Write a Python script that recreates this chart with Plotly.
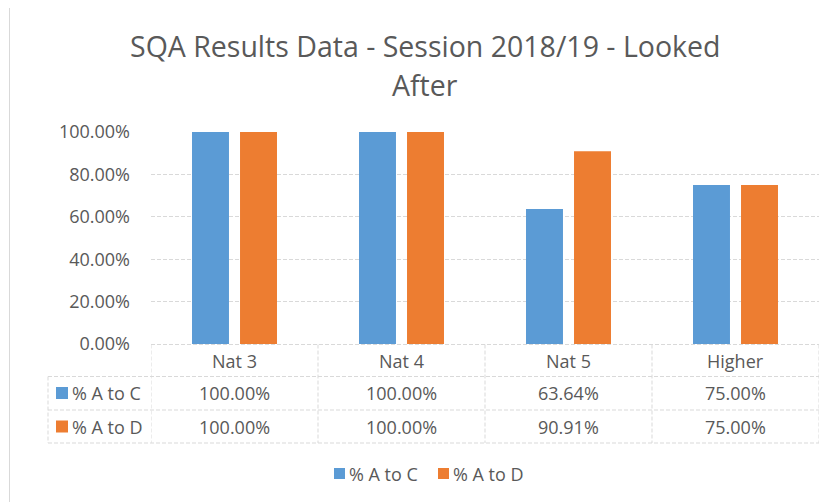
import plotly.graph_objects as go

categories = ["Nat 3", "Nat 4", "Nat 5", "Higher"]
series_names = ["% A to C", "% A to D"]
pct_a_to_c = [1.0, 1.0, 0.6364, 0.75]
pct_a_to_d = [1.0, 1.0, 0.9091, 0.75]
y_tick_values = [0, 0.2, 0.4, 0.6, 0.8, 1.0]
title_lines = ["SQA Results Data - Session 2018/19 - Looked", "After"]

colors = ["#5B9BD5", "#ED7D31"]
TXT = "#595959"
GRID = "#D9D9D9"
FONT = "Open Sans"

W, H = 832, 502
OFF = 8  # page body margin
# plot area in screen pixels
L, R, T, B = 151, 819, 132, 344


def px(x):
    return (x - L) / (R - L)


def py(y):
    return (B - y) / (B - T)


series_values = [pct_a_to_c, pct_a_to_d]

fig = go.Figure()
for name, vals, c in zip(series_names, series_values, colors):
    fig.add_trace(go.Bar(x=categories, y=vals, name=name,
                         marker=dict(color=c, line=dict(width=0)),
                         showlegend=False))

shapes = []
line_style = dict(color=GRID, width=1, dash="4px,2px")
shapes.append(dict(type="line", xref="paper", yref="paper", x0=0, x1=1,
                   y0=py(344.5), y1=py(344.5), line=line_style))
for yy in [376.5, 410, 443]:
    shapes.append(dict(type="line", xref="paper", yref="paper", x0=px(48), x1=1,
                       y0=py(yy), y1=py(yy), line=line_style))
shapes.append(dict(type="line", xref="paper", yref="paper", x0=px(48), x1=px(48),
                   y0=py(376.5), y1=py(443), line=line_style))
for i in range(len(categories) + 1):
    shapes.append(dict(type="line", xref="x", yref="paper", x0=i - 0.5, x1=i - 0.5,
                       y0=py(344.5), y1=py(443), line=line_style))
# outer chart border
shapes.append(dict(type="line", xref="paper", yref="paper", x0=px(9.5), x1=px(W + 20),
                   y0=py(7.5), y1=py(7.5), line=dict(color=GRID, width=1)))
shapes.append(dict(type="line", xref="paper", yref="paper", x0=px(9.5), x1=px(9.5),
                   y0=py(7.5), y1=py(H + 20), line=dict(color=GRID, width=1)))

FS = 18
annotations = []
for i, cat in enumerate(categories):
    annotations.append(dict(x=i, y=py(360.5), xref="x", yref="paper", text=cat,
                            showarrow=False, xanchor="center", yanchor="middle",
                            font=dict(family=FONT, size=FS, color=TXT)))
row_centers = [393, 426.5]
for r, (name, vals, c) in enumerate(zip(series_names, series_values, colors)):
    yc = row_centers[r]
    shapes.append(dict(type="rect", xref="paper", yref="paper", x0=px(56), x1=px(68),
                       y0=py(yc - 6), y1=py(yc + 6), fillcolor=c, line=dict(width=0)))
    annotations.append(dict(x=px(70), y=py(yc), xref="paper", yref="paper", text=name,
                            showarrow=False, xanchor="left", yanchor="middle",
                            font=dict(family=FONT, size=FS, color=TXT)))
    for i, v in enumerate(vals):
        annotations.append(dict(x=i, y=py(yc), xref="x", yref="paper", text=f"{v:.2%}",
                                showarrow=False, xanchor="center", yanchor="middle",
                                font=dict(family=FONT, size=FS, color=TXT)))

legend_y = 473.5
legend_x = [334, 438]
for name, c, lx in zip(series_names, colors, legend_x):
    shapes.append(dict(type="rect", xref="paper", yref="paper", x0=px(lx), x1=px(lx + 11),
                       y0=py(legend_y - 5.5), y1=py(legend_y + 5.5), fillcolor=c, line=dict(width=0)))
    annotations.append(dict(x=px(lx + 13), y=py(legend_y), xref="paper", yref="paper", text=name,
                            showarrow=False, xanchor="left", yanchor="middle",
                            font=dict(family=FONT, size=FS, color=TXT)))

# title (two lines)
for line, yc in zip(title_lines, [45.5, 84.5]):
    annotations.append(dict(x=px(425), y=py(yc), xref="paper", yref="paper", text=line,
                            showarrow=False, xanchor="center", yanchor="middle",
                            font=dict(family=FONT, size=28.5, color=TXT)))

fig.update_layout(
    width=W, height=H,
    margin=dict(l=L - OFF, r=W - (R - OFF), t=T - OFF, b=H - (B - OFF), pad=0),
    paper_bgcolor="white", plot_bgcolor="white",
    bargap=0.425, bargroupgap=0.23,
    shapes=shapes, annotations=annotations,
    font=dict(family=FONT, color=TXT),
)
fig.update_xaxes(showticklabels=False, showgrid=False, zeroline=False, showline=False,
                 range=[-0.5, len(categories) - 0.5])
fig.update_yaxes(range=[0, 1], tickvals=y_tick_values, tickformat=".2%",
                 showgrid=True, gridcolor=GRID, griddash="4px,2px", gridwidth=1,
                 zeroline=False, showline=False, ticks="", ticklabelstandoff=20,
                 tickfont=dict(family=FONT, size=FS, color=TXT))

fig.write_html("out.html")
